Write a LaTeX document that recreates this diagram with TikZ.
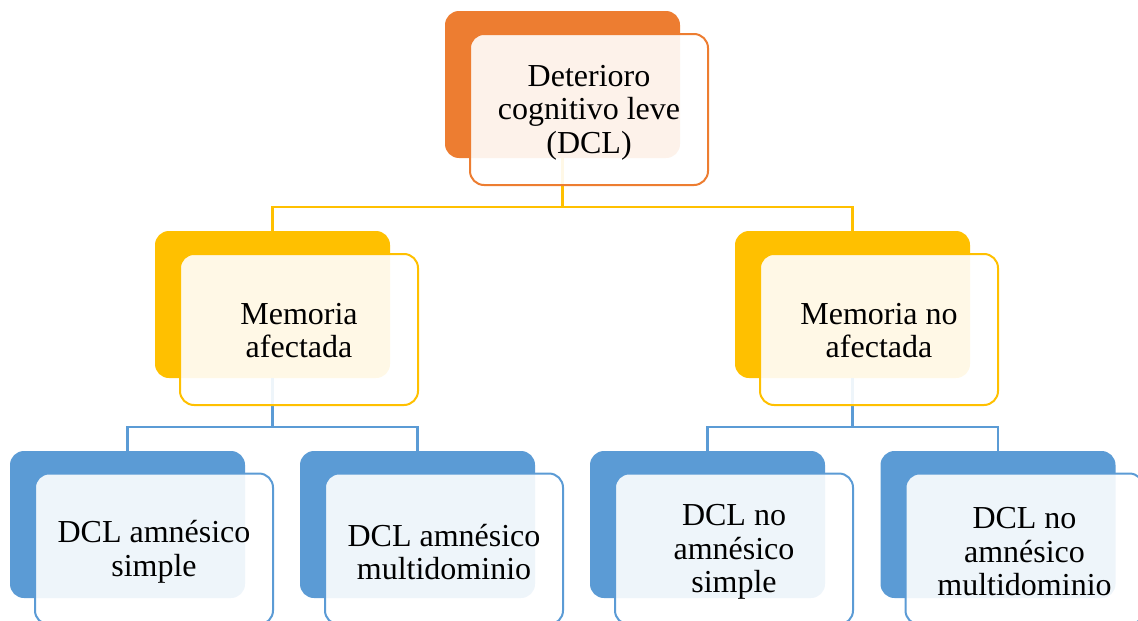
\documentclass[tikz,border=0pt]{standalone}
\usepackage{fontspec}
\setmainfont{Liberation Serif}
\definecolor{cOrange}{HTML}{ED7D31}
\definecolor{cYellow}{HTML}{FFC000}
\definecolor{cBlue}{HTML}{5B9BD5}
\begin{document}
\begin{tikzpicture}[x=1pt,y=-1pt,
  backbox/.style={rectangle, rounded corners=14pt, minimum width=235pt, minimum height=147pt, outer sep=0pt, inner sep=0pt, draw=none},
  frontbox/.style={rectangle, rounded corners=14pt, minimum width=238pt, minimum height=151pt, outer sep=0pt, inner sep=0pt, fill=white, fill opacity=0.9, line width=2pt},
  txt/.style={align=center, inner sep=0pt, font=\fontsize{32}{33.5}\selectfont},
  conn/.style={line width=2.2pt}]
\useasboundingbox (0,0) rectangle (1138,621);
% back boxes
\node[backbox, fill=cOrange] (b0) at (562.5,84.5) {};
\node[backbox, fill=cYellow] (b1) at (272.5,304.5) {};
\node[backbox, fill=cYellow] (b2) at (852.5,304.5) {};
\node[backbox, fill=cBlue] (c1) at (127.5,524.5) {};
\node[backbox, fill=cBlue] (c2) at (417.5,524.5) {};
\node[backbox, fill=cBlue] (c3) at (707.5,524.5) {};
\node[backbox, fill=cBlue] (c4) at (998,524.5) {};
% connectors
\coordinate (j0) at (562.5,207);
\coordinate (j1) at (272.5,427);
\coordinate (j2) at (852.5,427);
\draw[conn, cYellow] (b0.south) -- (j0);
\draw[conn, cYellow] (b1.north) |- (j0) -| (b2.north);
\draw[conn, cBlue] (b1.south) -- (j1);
\draw[conn, cBlue] (c1.north) |- (j1) -| (c2.north);
\draw[conn, cBlue] (b2.south) -- (j2);
\draw[conn, cBlue] (c3.north) |- (j2) -| (c4.north);
% front boxes
\node[frontbox, draw=cOrange] (f0) at (589,109.5) {};
\node[frontbox, draw=cYellow] (f1) at (299,329.5) {};
\node[frontbox, draw=cYellow] (f2) at (879,329.5) {};
\node[frontbox, draw=cBlue] (g1) at (154,549) {};
\node[frontbox, draw=cBlue] (g2) at (444,549) {};
\node[frontbox, draw=cBlue] (g3) at (734,549) {};
\node[frontbox, draw=cBlue] (g4) at (1024.5,549) {};
% texts
\node[txt, yshift=-3pt] (t0) at (f0.center) {Deterioro\\cognitivo leve\\(DCL)};
\node[txt, yshift=-1pt] (t1) at (f1.center) {Memoria\\afectada};
\node[txt, yshift=-1pt] (t2) at (f2.center) {Memoria no\\afectada};
\node[txt, yshift=-3pt] (u1) at (g1.center) {DCL amnésico\\simple};
\node[txt, yshift=-3pt] (u2) at (g2.center) {DCL amnésico\\multidominio};
\node[txt, yshift=-3pt] (u3) at (g3.center) {DCL no\\amnésico\\simple};
\node[txt, yshift=-3pt] (u4) at (g4.center) {DCL no\\amnésico\\multidominio};
\end{tikzpicture}
\end{document}
